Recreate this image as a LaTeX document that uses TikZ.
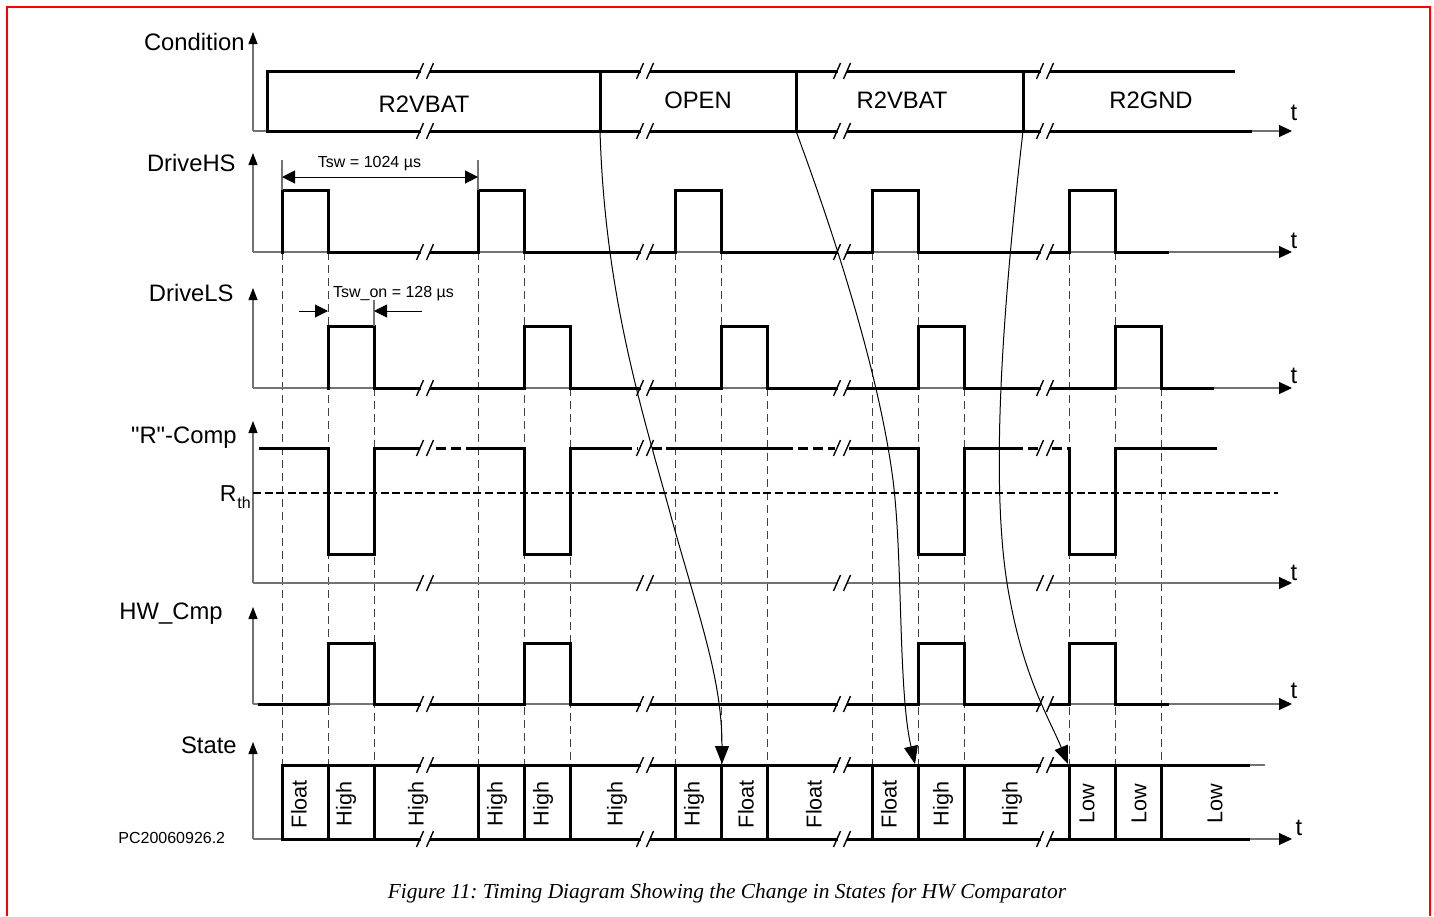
\documentclass[tikz,border=0pt]{standalone}
\usepackage{fontspec}
\setmainfont{Liberation Sans}
\newfontfamily\capfont{Liberation Serif}
\usetikzlibrary{arrows.meta}
\newcommand{\brkmark}[2]{%
  \fill[white] (#1-4.5,#2-3) rectangle (#1+4.5,#2+3);
  \draw[brkline] (#1-8.5,#2+8) -- (#1-1.5,#2-8) (#1+1.5,#2+8) -- (#1+8.5,#2-8);}
\tikzset{
  sig/.style={line width=1.5pt,black,line join=miter,line cap=rect},
  axisline/.style={line width=0.55pt,black!55},
  vaxis/.style={axisline,-{Triangle[length=6pt,width=4.5pt,color=black]}},
  taxis/.style={axisline,-{Triangle[length=6.5pt,width=6pt,color=black]}},
  vdash/.style={line width=0.5pt,black!75,dash pattern=on 4pt off 2.5pt},
  rth/.style={line width=0.7pt,black,dash pattern=on 4pt off 1.8pt},
  brkline/.style={line width=0.7pt,black},
  big/.style={inner sep=0pt,font=\fontsize{11.9}{13}\selectfont},
  small/.style={inner sep=0pt,font=\fontsize{8}{9}\selectfont},
  stlbl/.style={inner sep=0pt,rotate=90,font=\fontsize{10.8}{12}\selectfont},
  curvearrow/.style={line width=0.5pt,black,-{Triangle[length=9pt,width=7pt]}},
  dimarrow/.style={line width=0.5pt,black},
}
\begin{document}
\frenchspacing
\begin{tikzpicture}[x=0.5pt,y=-0.5pt]
\useasboundingbox (0,0) rectangle (1434,916);
% red frame
\draw[red,line width=1pt] (7,916) -- (7,7) -- (1430,7) -- (1430,916);

% ---------- dashed verticals ----------
\foreach \x in {282,328,478,524,675,721,872,918,1069,1115}
  \draw[vdash] (\x,252) -- (\x,765);
\foreach \x in {374,570,767,964,1161}
  \draw[vdash] (\x,388) -- (\x,765);

% ---------- Condition ----------
\draw[vaxis] (253,131) -- (253,32);
\draw[axisline] (253,131) -- (267,131);
\draw[taxis] (1250,131) -- (1292,131);
\draw[sig] (267,131) -- (267,71) -- (1233,71);
\draw[sig] (267,131) -- (1250,131);
\foreach \x in {600,796,1023} \draw[sig] (\x,71) -- (\x,131);
\node[big,anchor=base east] (lcond) at (245,50) {Condition};
\node[big,anchor=base] (c1) at (424,112) {R2VBAT};
\node[big,anchor=base] (c2) at (698,108) {OPEN};
\node[big,anchor=base] (c3) at (902,108) {R2VBAT};
\node[big,anchor=base] (c4) at (1151,108) {R2GND};
\node[big,anchor=base] (t1) at (1294,120) {t};

% ---------- DriveHS ----------
\draw[vaxis] (253,252) -- (253,153);
\draw[taxis] (253,252) -- (1292,252);
\draw[sig] (282,252) -- (282,190) -- (328,190) -- (328,252) -- (478,252) -- (478,190) -- (524,190) -- (524,252)
  -- (675,252) -- (675,190) -- (721,190) -- (721,252) -- (872,252) -- (872,190) -- (918,190) -- (918,252)
  -- (1069,252) -- (1069,190) -- (1115,190) -- (1115,252) -- (1167,252);
\node[big,anchor=base east] (lhs) at (236,171) {DriveHS};
\node[big,anchor=base] (t2) at (1294,248) {t};
\draw[axisline] (282,160) -- (282,190) (478,160) -- (478,190);
\coordinate (tswa) at (282,177);
\coordinate (tswb) at (478,177);
\draw[dimarrow,{Triangle[length=6.5pt,width=6.5pt]}-{Triangle[length=6.5pt,width=6.5pt]}] (tswa) -- (tswb);
\node[small,anchor=base] (tsw) at (369.5,167) {Tsw = 1024 µs};

% ---------- DriveLS ----------
\draw[vaxis] (253,388) -- (253,288);
\draw[taxis] (253,388) -- (1292,388);
\draw[sig] (328,388) -- (328,326) -- (374,326) -- (374,388) -- (524,388) -- (524,326) -- (570,326) -- (570,388)
  -- (721,388) -- (721,326) -- (767,326) -- (767,388) -- (918,388) -- (918,326) -- (964,326) -- (964,388)
  -- (1115,388) -- (1115,326) -- (1161,326) -- (1161,388) -- (1212,388);
\node[big,anchor=base east] (lls) at (234,301) {DriveLS};
\node[big,anchor=base] (t3) at (1294,383) {t};
\draw[axisline] (374,300) -- (374,326);
\coordinate (ona) at (299,311);
\coordinate (onb) at (328,311);
\coordinate (onc) at (422,311);
\coordinate (ond) at (374,311);
\draw[dimarrow,-{Triangle[length=6.5pt,width=6.5pt]}] (ona) -- (onb);
\draw[dimarrow,-{Triangle[length=6.5pt,width=6.5pt]}] (onc) -- (ond);
\node[small,anchor=base] (tswon) at (393.5,297) {Tsw\_on = 128 µs};

% ---------- "R"-Comp ----------
\draw[vaxis] (253,583) -- (253,421);
\draw[taxis] (253,583) -- (1292,583);
\draw[rth] (253,493) -- (1278,493);
\draw[sig] (260,448) -- (328,448) -- (328,554) -- (374,554) -- (374,448) -- (418,448);
\draw[sig,line cap=butt,dash pattern=on 5pt off 2.5pt] (436,448) -- (477,448);
\draw[sig] (477,448) -- (524,448) -- (524,554) -- (570,554) -- (570,448) -- (622,448);
\draw[sig,line cap=butt,dash pattern=on 5pt off 2.5pt] (622,448) -- (638,448);
\draw[sig,line cap=butt,dash pattern=on 5pt off 2.5pt] (652,448) -- (667,448);
\draw[sig] (667,448) -- (783,448);
\draw[sig,line cap=butt,dash pattern=on 5pt off 2.5pt] (783,448) -- (835,448);
\draw[sig] (850,448) -- (918,448) -- (918,554) -- (964,554) -- (964,448) -- (1013,448);
\draw[sig,line cap=butt,dash pattern=on 5pt off 2.5pt] (1013,448) -- (1038,448);
\draw[sig,line cap=butt,dash pattern=on 5pt off 2.5pt] (1052,448) -- (1069,448);
\draw[sig] (1069,448) -- (1069,554) -- (1115,554) -- (1115,448) -- (1215,448);
\node[big,anchor=base east] (lrc) at (237,443) {\textquotedbl R\textquotedbl -Comp};
\node[inner sep=0pt,anchor=base east,font=\fontsize{11.5}{13}\selectfont] (rthR) at (237,501) {R};
\node[inner sep=0pt,anchor=base west,font=\fontsize{8}{9}\selectfont] (rthsub) at (237,508) {th};
\node[big,anchor=base] (t4) at (1294,580) {t};

% ---------- HW_Cmp ----------
\draw[vaxis] (253,704) -- (253,607);
\draw[taxis] (253,704) -- (1292,704);
\draw[sig] (259,704) -- (328,704) -- (328,643) -- (374,643) -- (374,704) -- (524,704) -- (524,643) -- (570,643) -- (570,704)
  -- (918,704) -- (918,643) -- (964,643) -- (964,704) -- (1069,704) -- (1069,643) -- (1115,643) -- (1115,704) -- (1167,704);
\node[big,anchor=base east] (lhw) at (223,619) {HW\_Cmp};
\node[big,anchor=base] (t5) at (1294,698) {t};

% ---------- State ----------
\draw[vaxis] (253,839) -- (253,742);
\draw[taxis] (253,839) -- (1292,839);
\draw[axisline] (1248,765) -- (1265,765);
\draw[sig] (282,765) -- (1248,765);
\draw[sig] (282,839) -- (1248,839);
\foreach \x in {282,328,374,478,524,570,675,721,767,872,918,964,1069,1115,1161}
  \draw[sig] (\x,765) -- (\x,839);
\node[big,anchor=base east] (lst) at (237,753) {State};
\node[small,anchor=base west] (pcid) at (118,843) {PC20060926.2};
\node[big,anchor=base] (t6) at (1299,835) {t};

% ---------- break marks ----------
\foreach \x in {425,645,842,1045} {
  \foreach \y in {71,131,252,388,448,583,704,765,839} {
    \brkmark{\x}{\y}
  }
}

% state labels
\node[stlbl] (s1) at (299,804) {Float};
\node[stlbl] (s2) at (346,804) {High};
\node[stlbl] (s3) at (418,804) {High};
\node[stlbl] (s4) at (497,804) {High};
\node[stlbl] (s5) at (543,804) {High};
\node[stlbl] (s6) at (617,804) {High};
\node[stlbl] (s7) at (694,804) {High};
\node[stlbl] (s8) at (746,804) {Float};
\node[stlbl] (s9) at (814,804) {Float};
\node[stlbl] (s10) at (889,804) {Float};
\node[stlbl] (s11) at (943,804) {High};
\node[stlbl] (s12) at (1012,804) {High};
\node[stlbl] (s13) at (1087,804) {Low};
\node[stlbl] (s14) at (1139,804) {Low};
\node[stlbl] (s15) at (1215,804) {Low};

% ---------- curved arrows ----------
\coordinate (a1) at (600,131);
\coordinate (b1) at (722,764);
\coordinate (a2) at (796,131);
\coordinate (b2) at (915,764);
\coordinate (a3) at (1023,131);
\coordinate (b3) at (1068,764);
\draw[curvearrow] (a1) .. controls (605,300) and (645,420) .. (672,520) .. controls (700,620) and (722,680) .. (b1);
\draw[curvearrow] (a2) .. controls (840,250) and (880,380) .. (893,480) .. controls (903,560) and (898,690) .. (b2);
\draw[curvearrow] (a3) .. controls (1000,330) and (990,500) .. (1010,600) .. controls (1025,680) and (1050,720) .. (b3);

% ---------- caption ----------
\node[inner sep=0pt,anchor=base,font=\capfont\itshape\fontsize{10.7}{12}\selectfont] (cap) at (727,898)
  {Figure 11: Timing Diagram Showing the Change in States for HW Comparator};
\end{tikzpicture}
\end{document}
